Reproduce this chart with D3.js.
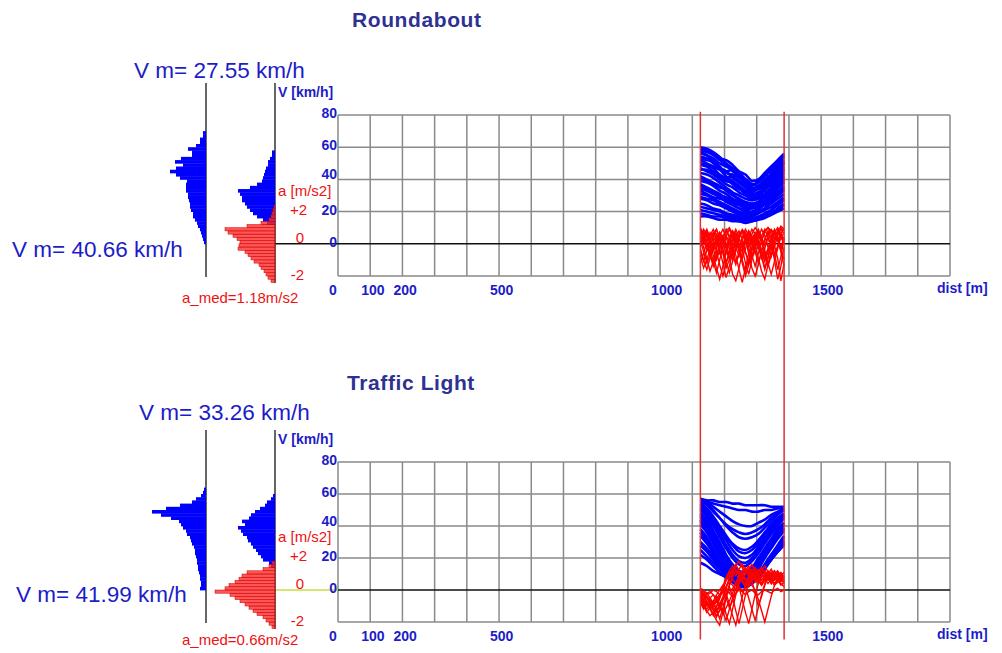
<!DOCTYPE html>
<meta charset="utf-8">
<style>
body { margin: 0; background: #fff; }
text { font-family: "Liberation Sans", Arial, sans-serif; }
.tick-v { font-size: 14px; font-weight: bold; fill: #1c1cc8; }
.tick-a { font-size: 15px; fill: #ee1111; }
.vm { font-size: 22.5px; fill: #1c1cc8; }
.amed { font-size: 15px; fill: #ee1111; }
.title { font-size: 21px; font-weight: bold; fill: #2e3192; letter-spacing: 0.6px; }
</style>
<body>
<script src="https://d3js.org/d3.v7.min.js"></script>
<script>
var width = 1002, height = 653

// distance axis
var distTicks = [0, 100, 200, 500, 1000, 1500]
var speedTicks = [80, 60, 40, 20, 0]
var accTicks = [{v: 2, t: "+2"}, {v: 0, t: "0"}, {v: -2, t: "-2"}]
var zoneStart = 1125, zoneEnd = 1385

// sample positions of the traces (m)
var distV = [1125, 1145, 1165, 1185, 1205, 1225, 1245, 1265, 1285, 1305, 1325, 1345, 1365, 1385]
var distA = [1125, 1135, 1145, 1155, 1165, 1175, 1185, 1195, 1205, 1215, 1225, 1235, 1245, 1255,
  1265, 1275, 1285, 1295, 1305, 1315, 1325, 1335, 1345, 1355, 1365, 1375, 1385]

// Roundabout speed traces (km/h)
var rbSpeed = [
  [60, 59, 57, 54, 50, 47, 44, 40, 37, 38, 42, 46, 51, 55],
  [59, 58, 56, 53, 52, 49, 45, 43, 39, 40, 44, 48, 52, 56],
  [58, 57, 55, 52, 49, 45, 42, 38, 35, 34, 37, 42, 47, 52],
  [57, 55, 51, 47, 45, 46, 44, 40, 36, 39, 43, 41, 45, 50],
  [56, 55, 53, 50, 48, 46, 42, 40, 37, 36, 39, 44, 49, 54],
  [54, 53, 50, 47, 45, 41, 38, 35, 33, 34, 36, 40, 45, 50],
  [53, 52, 51, 48, 44, 43, 41, 37, 34, 36, 40, 43, 46, 51],
  [52, 50, 48, 46, 42, 39, 36, 33, 31, 32, 35, 39, 44, 48],
  [50, 49, 47, 43, 41, 42, 39, 35, 32, 35, 38, 36, 40, 46],
  [49, 48, 45, 42, 40, 37, 34, 32, 30, 30, 33, 37, 41, 46],
  [47, 45, 43, 40, 37, 35, 32, 30, 28, 29, 31, 35, 39, 44],
  [46, 46, 44, 41, 39, 38, 35, 31, 29, 31, 34, 38, 43, 47],
  [44, 43, 41, 38, 35, 32, 30, 28, 27, 28, 30, 33, 38, 42],
  [42, 40, 38, 36, 33, 30, 28, 26, 25, 26, 29, 32, 36, 40],
  [41, 39, 37, 35, 34, 31, 27, 25, 24, 26, 30, 34, 37, 41],
  [39, 38, 36, 33, 31, 28, 26, 24, 23, 25, 27, 30, 34, 38],
  [37, 35, 33, 31, 28, 26, 24, 22, 22, 23, 26, 29, 32, 36],
  [36, 34, 32, 30, 29, 27, 25, 23, 22, 24, 27, 31, 35, 39],
  [34, 33, 31, 29, 26, 24, 22, 21, 20, 22, 24, 27, 30, 34],
  [33, 31, 29, 28, 27, 25, 22, 20, 19, 21, 25, 28, 31, 35],
  [31, 30, 28, 26, 24, 22, 20, 19, 19, 20, 22, 25, 28, 31],
  [29, 28, 27, 25, 23, 21, 19, 18, 17, 19, 22, 26, 30, 33],
  [28, 27, 25, 24, 22, 20, 18, 17, 18, 19, 21, 23, 26, 29],
  [25, 24, 22, 21, 19, 18, 17, 16, 16, 17, 19, 21, 24, 27],
  [23, 22, 21, 20, 18, 17, 16, 15, 15, 16, 18, 21, 25, 28],
  [21, 20, 19, 18, 17, 16, 15, 15, 15, 16, 17, 19, 22, 25],
  [19, 18, 17, 17, 16, 15, 14, 14, 14, 15, 17, 19, 21, 24],
  [17, 17, 16, 15, 15, 14, 14, 13, 14, 15, 16, 18, 20, 22]
]

// Roundabout acceleration traces (m/s2)
var rbAcc = [
  [0.6, 0.3, -0.2, -0.8, -0.4, 0.2, 0.7, 0.4, -0.3, -1.0, -0.6, 0.1, 0.6, 0.8, 0.3, -0.4, -0.9, -0.3, 0.4, 0.9, 0.5, -0.2, -0.8, -0.2, 0.5, 0.9, 0.6],
  [0.2, -0.5, -1.2, -0.7, 0.1, 0.6, 0.2, -0.6, -1.5, -1.0, -0.2, 0.4, 0.8, 0.3, -0.5, -1.3, -0.8, 0.0, 0.6, 0.2, -0.6, -1.4, -0.7, 0.1, 0.7, 1.0, 0.8],
  [-0.3, -1.0, -1.6, -0.9, -0.2, 0.3, -0.4, -1.2, -2.1, -1.4, -0.5, 0.2, -0.3, -1.0, -1.7, -1.0, -0.2, 0.5, 0.1, -0.7, -1.5, -0.8, 0.0, 0.6, 0.2, -0.4, 0.3],
  [0.8, 0.5, 0.0, -0.6, -1.3, -0.7, 0.0, 0.5, 0.0, -0.8, -1.9, -2.3, -1.5, -0.6, 0.1, 0.7, 0.3, -0.5, -1.2, -0.5, 0.3, 0.8, 0.4, -0.6, -1.6, -0.8, 0.4],
  [-0.8, -1.5, -1.0, -0.3, 0.4, 0.9, 0.4, -0.3, -1.1, -1.8, -1.1, -0.3, 0.4, 0.8, 0.2, -0.6, -1.5, -2.0, -1.3, -0.4, 0.3, 0.7, 0.1, -1.0, -2.2, -1.4, -0.2],
  [0.4, 0.9, 0.6, 0.0, -0.7, -1.5, -2.2, -1.4, -0.5, 0.3, 0.8, 0.5, -0.2, -0.9, -0.3, 0.4, 0.9, 0.6, 0.0, -0.8, -1.6, -0.9, 0.0, 0.7, 1.0, 0.6, 0.2],
  [0.0, 0.5, 0.9, 0.4, -0.3, -1.0, -0.4, 0.3, 0.8, 0.4, -0.4, -1.1, -0.6, 0.2, 0.7, 0.2, -0.7, -1.4, -0.6, 0.2, 0.8, 1.0, 0.6, -0.1, -0.9, -2.3, -1.2],
  [-1.2, -0.6, 0.1, 0.7, 0.3, -0.5, -1.3, -2.0, -1.2, -0.4, 0.4, 0.9, 0.4, -0.3, -1.2, -1.9, -1.0, -0.2, 0.5, 0.1, -0.8, -0.3, 0.4, 0.9, 0.5, -0.3, -1.0],
  [0.9, 0.6, 0.2, 0.5, 0.9, 0.5, -0.1, 0.4, 0.8, 1.0, 0.6, 0.1, 0.5, 0.9, 0.6, 0.1, 0.6, 1.0, 0.7, 0.2, 0.7, 1.0, 0.8, 0.3, 0.7, 1.1, 0.9],
  [0.5, 0.1, 0.6, 0.2, -0.3, 0.3, 0.7, 0.2, -0.2, 0.4, 0.8, 0.3, -0.2, 0.4, 0.9, 0.5, 0.0, 0.5, 0.9, 0.4, -0.1, 0.5, 0.9, 0.6, 0.2, 0.6, 1.0],
  [-0.5, -1.1, -0.4, 0.3, 0.7, 0.2, -0.6, -0.2, 0.5, 0.1, -0.7, -1.3, -0.6, 0.1, -0.5, -1.1, -0.4, 0.3, -0.2, -0.9, -0.3, 0.4, -0.2, -0.8, -0.1, 0.6, 0.3],
  [0.3, -0.2, -0.9, -1.7, -1.1, -0.3, 0.5, 0.1, -0.6, 0.0, 0.6, 0.2, -0.5, -1.2, -2.0, -1.3, -0.4, 0.3, 0.8, 0.3, -0.4, -1.2, -1.9, -1.1, -0.3, 0.4, 0.7],
  [0.7, 0.2, -0.4, 0.1, 0.6, 0.9, 0.3, -0.5, -1.2, -0.6, 0.2, 0.7, 0.3, -0.2, 0.4, 0.8, 0.2, -0.6, -0.1, 0.5, 0.9, 0.4, -0.3, 0.2, 0.8, 0.5, 0.0],
  [-0.2, 0.4, 0.8, 0.3, -0.4, -0.1, 0.5, 0.9, 0.4, -0.3, -1.0, -0.4, 0.3, 0.8, 0.4, -0.2, 0.3, 0.7, 0.2, -0.5, -1.1, -0.5, 0.2, 0.7, 0.3, -0.2, 0.4],
  [1.0, 0.6, 0.0, -0.7, -1.4, -0.8, -0.1, 0.4, 0.9, 0.5, -0.1, -0.7, -1.6, -2.4, -1.5, -0.6, 0.1, 0.6, 0.2, -0.4, -1.0, -0.4, 0.3, 0.8, 0.3, -0.5, -1.4],
  [0.3, 0.8, 0.4, -0.3, -1.1, -1.8, -1.0, -0.2, 0.5, 0.9, 0.4, -0.2, -0.8, -0.3, 0.3, 0.8, 0.5, -0.1, -0.9, -1.7, -2.2, -1.3, -0.4, 0.3, 0.8, 0.4, 0.0]
]

// Traffic light speed traces (km/h)
var tlSpeed = [
  [57, 56, 56, 55, 55, 54, 54, 53, 53, 53, 53, 52, 52, 52],
  [55, 55, 54, 53, 52, 51, 50, 50, 49, 49, 50, 50, 51, 51],
  [56, 55, 52, 49, 46, 43, 41, 40, 40, 42, 44, 47, 49, 51],
  [56, 54, 50, 45, 41, 38, 36, 35, 36, 38, 41, 45, 48, 50],
  [55, 53, 49, 45, 40, 36, 33, 32, 33, 35, 39, 43, 47, 50],
  [54, 51, 46, 40, 34, 29, 26, 25, 27, 31, 36, 41, 45, 48],
  [53, 50, 45, 39, 33, 28, 24, 23, 25, 29, 34, 39, 44, 47],
  [52, 49, 43, 37, 31, 25, 21, 20, 22, 27, 32, 38, 43, 47],
  [51, 47, 42, 35, 28, 22, 18, 17, 20, 25, 31, 37, 42, 46],
  [50, 46, 40, 33, 26, 20, 16, 15, 18, 23, 29, 35, 40, 45],
  [48, 44, 37, 30, 22, 16, 12, 11, 14, 20, 26, 32, 38, 42],
  [47, 43, 36, 28, 20, 14, 10, 9, 12, 18, 25, 31, 37, 42],
  [46, 41, 34, 26, 18, 12, 9, 8, 11, 17, 24, 30, 36, 41],
  [44, 39, 32, 24, 16, 10, 7, 6, 9, 15, 22, 28, 34, 39],
  [43, 38, 31, 23, 15, 9, 6, 5, 8, 14, 21, 27, 33, 38],
  [41, 36, 29, 21, 13, 8, 5, 5, 8, 13, 20, 26, 32, 37],
  [38, 33, 26, 18, 11, 6, 3, 3, 5, 10, 16, 22, 28, 34],
  [36, 31, 25, 17, 10, 6, 3, 2, 5, 9, 16, 22, 27, 33],
  [34, 29, 23, 16, 9, 5, 2, 2, 4, 9, 15, 21, 26, 31],
  [30, 26, 21, 15, 10, 6, 4, 3, 5, 9, 14, 20, 25, 30],
  [28, 24, 19, 14, 9, 5, 3, 2, 4, 8, 13, 19, 24, 29],
  [25, 21, 17, 13, 9, 6, 4, 3, 5, 9, 14, 19, 24, 29],
  [22, 19, 15, 11, 8, 6, 4, 4, 6, 10, 14, 19, 24, 28],
  [17, 15, 12, 10, 8, 7, 6, 6, 8, 11, 15, 20, 25, 30]
]

// Traffic light acceleration traces (m/s2)
var tlAcc = [
  [-0.3, -0.6, -0.9, -1.2, -1.0, -0.7, -0.4, 0.2, 0.8, 1.2, 1.5, 1.3, 1.0, 1.2, 1.4, 1.1, 0.8, 1.0, 1.3, 1.0, 0.7, 0.9, 1.1, 0.8, 0.5, 0.7, 0.9],
  [-0.5, -0.9, -1.3, -1.6, -1.4, -1.0, -0.5, 0.0, 0.6, 1.0, 1.3, 1.6, 1.2, 0.9, 1.2, 1.5, 1.1, 0.8, 1.1, 1.4, 1.0, 0.6, 0.9, 1.2, 0.8, 0.5, 0.7],
  [-0.2, -0.4, -0.8, -1.1, -1.5, -1.9, -2.2, -1.4, -0.5, 0.3, 0.9, 1.2, 0.9, 0.6, 1.0, 1.3, 0.9, 0.5, 0.8, 1.1, 0.7, 0.4, 0.7, 1.0, 0.6, 0.3, 0.5],
  [-0.1, -0.3, -0.5, -0.8, -1.2, -1.6, -1.3, -0.8, -1.5, -2.1, -1.2, -0.3, 0.4, 1.0, 0.7, 0.3, 0.8, 1.2, 0.8, 0.4, 0.8, 1.1, 0.7, 0.3, 0.6, 0.9, 0.5],
  [-0.4, -0.7, -1.0, -0.8, -1.1, -1.4, -1.0, -0.6, -0.2, -0.9, -1.6, -2.2, -1.3, -0.4, 0.3, 0.9, 1.3, 0.9, 0.5, 0.9, 1.2, 0.8, 0.4, 0.7, 1.0, 0.7, 0.4],
  [0.0, -0.2, -0.4, -0.6, -0.9, -0.6, -0.3, 0.1, -0.5, -1.1, -0.7, -0.2, 0.2, -0.6, -1.4, -2.1, -1.2, -0.3, 0.4, 0.9, 1.2, 0.8, 0.4, 0.8, 1.1, 0.8, 0.5],
  [-0.6, -1.0, -1.4, -1.1, -0.7, -0.3, 0.0, 0.3, 0.1, -0.2, 0.1, 0.4, 0.2, -0.1, 0.2, 0.5, 0.3, 0.0, -0.6, -1.3, -2.0, -1.2, -0.4, 0.3, 0.7, 0.4, 0.2],
  [-0.2, -0.1, -0.3, -0.2, 0.0, -0.1, -0.3, -0.2, 0.0, -0.2, -0.4, -0.2, 0.0, -0.1, -0.3, -0.1, 0.0, -0.2, -0.3, -0.1, 0.0, -0.1, -0.2, 0.0, 0.1, -0.1, 0.0],
  [-0.8, -1.2, -0.9, -0.5, -0.8, -1.3, -0.9, -0.4, 0.2, 0.7, 1.1, 1.5, 1.8, 1.4, 1.0, 1.3, 1.6, 1.2, 0.9, 1.2, 1.5, 1.1, 0.8, 1.0, 1.2, 0.9, 0.7],
  [-0.3, -0.6, -0.4, -0.7, -1.0, -0.7, -1.1, -1.5, -1.1, -0.7, -0.2, 0.4, 0.9, 0.6, 0.3, 0.7, 1.0, 0.7, 0.4, 0.8, 1.0, 0.7, 0.5, 0.8, 1.0, 0.7, 0.5],
  [0.1, 0.0, -0.2, -0.1, -0.3, -0.5, -0.3, -0.1, 0.2, 0.5, 0.3, 0.0, 0.4, 0.8, 0.5, 0.2, 0.6, 0.9, 0.6, 0.3, 0.6, 0.9, 0.6, 0.3, 0.5, 0.8, 0.6],
  [-0.5, -0.3, -0.7, -1.1, -0.8, -0.4, -0.9, -1.4, -1.9, -1.2, -0.5, 0.1, 0.6, 1.0, 1.3, 1.0, 0.6, -0.2, -1.0, -0.4, 0.3, 0.8, 1.1, 0.8, 0.5, 0.9, 1.1],
  [-0.4, -0.8, -1.2, -0.9, -1.3, -1.7, -1.2, -0.6, 0.1, 0.8, 1.2, 0.9, 1.3, 1.6, 1.2, 0.8, 1.1, 1.4, 1.0, 0.6, 0.9, 1.2, 0.8, 0.6, 0.9, 1.1, 0.8],
  [-0.1, -0.4, -0.7, -1.0, -0.7, -1.2, -1.8, -1.1, -0.4, 0.2, -0.4, -1.3, -2.1, -1.2, -0.3, 0.5, 1.0, 0.7, 1.1, 1.4, 1.0, 0.7, 1.0, 1.2, 0.9, 0.6, 0.8],
  [-0.7, -1.1, -0.8, -1.2, -1.6, -1.1, -0.5, 0.1, 0.7, 1.1, 0.8, 1.2, 0.9, 0.5, 0.2, -0.5, -1.2, -1.9, -1.1, -0.3, 0.4, 1.0, 1.3, 0.9, 0.6, 0.9, 1.1],
  [0.0, -0.3, -0.2, -0.5, -0.3, -0.6, -0.9, -0.5, -0.2, 0.3, 0.7, 0.4, 0.8, 1.1, 0.7, 0.4, 0.7, 1.0, 0.6, 0.3, 0.7, 1.0, 0.7, 0.4, 0.7, 1.0, 0.8]
]

// histograms: counts from the lowest bin upward
// speed over the whole run, 2 km/h bins starting at 0
var rbHistAll = [2, 3, 4, 5, 6, 8, 9, 11, 13, 13, 15, 16, 16, 17, 18, 18, 20, 20, 20, 19,
  26, 30, 36, 30, 23, 31, 25, 14, 14, 18, 10, 6, 6, 3, 3]
var tlHistAll = [6, 5, 5, 6, 6, 7, 8, 8, 9, 9, 10, 11, 11, 12, 14, 15, 16, 19, 20, 23,
  25, 27, 35, 45, 54, 40, 26, 14, 10, 5, 3, 2]
// speed inside the zone, 2 km/h bins
var rbHistZone = [8, 12, 18, 22, 25, 28, 30, 33, 33, 35, 37, 25, 18, 13, 12, 11, 10, 9, 7, 7, 5, 3, 3]
var rbHistZoneStart = 12
var tlHistZone = [4, 6, 12, 14, 17, 19, 22, 24, 27, 28, 32, 34, 37, 30, 33, 26, 24, 20, 15, 10, 8, 4, 2]
var tlHistZoneStart = 14
// acceleration inside the zone, 0.2 m/s2 bins starting at -2.4
var rbHistAcc = [4, 7, 9, 11, 14, 16, 21, 24, 27, 30, 37, 36, 35, 38, 42, 47, 50, 28, 14, 6, 4, 3, 2, 1]
var tlHistAcc = [3, 6, 9, 12, 18, 22, 26, 30, 35, 40, 45, 60, 50, 46, 40, 36, 33, 28, 12, 6, 3]

var panels = [
  {title: "Roundabout", vmTop: "V m= 27.55 km/h", vmBot: "V m= 40.66 km/h", aMed: "a_med=1.18m/s2",
   speed: rbSpeed, acc: rbAcc, hAll: rbHistAll, hZone: rbHistZone, hZoneStart: rbHistZoneStart, hAcc: rbHistAcc,
   top: 115, bottom: 276, titleX: 352, titleY: 27, vmTopX: 134, vmTopY: 78, vmBotX: 12, vmBotY: 257, aMedY: 303,
   stub: "#111"},
  {title: "Traffic Light", vmTop: "V m= 33.26 km/h", vmBot: "V m= 41.99 km/h", aMed: "a_med=0.66m/s2",
   speed: tlSpeed, acc: tlAcc, hAll: tlHistAll, hZone: tlHistZone, hZoneStart: tlHistZoneStart, hAcc: tlHistAcc,
   top: 462, bottom: 622, titleX: 347, titleY: 390, vmTopX: 139, vmTopY: 420, vmBotX: 16, vmBotY: 602, aMedY: 645,
   stub: "#c8dc3c"}
]

var svg = d3.select("body").append("svg")
    .attr("width", width)
    .attr("height", height)

svg.append("rect").attr("width", width).attr("height", height).attr("fill", "#fff")

var x = d3.scaleLinear().domain([0, 1900]).range([338, 950])
var barLen = d3.scaleLinear().domain([0, 60]).range([0, 60])
var hist1X = 206, hist2X = 275

panels.forEach(function(p) {
  var y = d3.scaleLinear().domain([-20, 80]).range([p.bottom, p.top])
  var ya = function(a) { return y(a * 10) }   // acceleration drawn on the speed scale
  var g = svg.append("g")

  // grid
  g.selectAll(".vgrid")
    .data(d3.range(0, 1901, 100))
  .enter().append("line")
    .attr("x1", function(d) { return x(d) })
    .attr("x2", function(d) { return x(d) })
    .attr("y1", y(80)).attr("y2", y(-20))
    .attr("stroke", "#8a8a8a").attr("stroke-width", 1.5)

  g.selectAll(".hgrid")
    .data([80, 60, 40, 20, -20])
  .enter().append("line")
    .attr("x1", x(0)).attr("x2", x(1900))
    .attr("y1", function(d) { return y(d) })
    .attr("y2", function(d) { return y(d) })
    .attr("stroke", "#8a8a8a").attr("stroke-width", 1.5)

  // zero line
  g.append("line")
    .attr("x1", hist2X).attr("x2", x(0))
    .attr("y1", y(0)).attr("y2", y(0))
    .attr("stroke", p.stub).attr("stroke-width", 1.5)
  g.append("line")
    .attr("x1", x(0)).attr("x2", x(1900))
    .attr("y1", y(0)).attr("y2", y(0))
    .attr("stroke", "#111").attr("stroke-width", 1.5)

  // histogram axes
  g.append("line").attr("x1", hist1X).attr("x2", hist1X)
    .attr("y1", y(80) - 32).attr("y2", y(-20) + 1)
    .attr("stroke", "#333").attr("stroke-width", 1.5)
  g.append("line").attr("x1", hist2X).attr("x2", hist2X)
    .attr("y1", y(80) - 32).attr("y2", y(-20) + 7)
    .attr("stroke", "#333").attr("stroke-width", 1.5)

  // speed histograms
  g.selectAll(".hall")
    .data(p.hAll)
  .enter().append("rect")
    .attr("x", function(d) { return hist1X - barLen(d) })
    .attr("width", function(d) { return barLen(d) })
    .attr("y", function(d, i) { return y(i * 2 + 2) })
    .attr("height", function(d, i) { return y(i * 2) - y(i * 2 + 2) + 0.4 })
    .attr("fill", "#0000ff")

  g.selectAll(".hzone")
    .data(p.hZone)
  .enter().append("rect")
    .attr("x", function(d) { return hist2X - barLen(d) })
    .attr("width", function(d) { return barLen(d) })
    .attr("y", function(d, i) { return y(p.hZoneStart + i * 2 + 2) })
    .attr("height", function(d, i) { return y(p.hZoneStart + i * 2) - y(p.hZoneStart + i * 2 + 2) + 0.4 })
    .attr("fill", "#0000ff")

  // acceleration histogram
  g.selectAll(".hacc")
    .data(p.hAcc)
  .enter().append("rect")
    .attr("x", function(d) { return hist2X - barLen(d) })
    .attr("width", function(d) { return barLen(d) })
    .attr("y", function(d, i) { return ya(-2.4 + i * 0.2 + 0.2) })
    .attr("height", function(d, i) { return ya(-2.4 + i * 0.2) - ya(-2.4 + i * 0.2 + 0.2) })
    .attr("fill", "#ff2a2a").attr("fill-opacity", 0.8)
    .attr("stroke", "#c80000").attr("stroke-width", 0.5)

  // traces
  var speedLine = d3.line()
    .x(function(d, i) { return x(distV[i]) })
    .y(function(d) { return y(d) })
    .curve(d3.curveCatmullRom)
  g.selectAll(".vtrace")
    .data(p.speed)
  .enter().append("path")
    .attr("d", speedLine)
    .attr("fill", "none").attr("stroke", "#0000ff").attr("stroke-width", 2.6)

  var accLine = d3.line()
    .x(function(d, i) { return x(distA[i]) })
    .y(function(d) { return ya(d) })
  g.selectAll(".atrace")
    .data(p.acc)
  .enter().append("path")
    .attr("d", accLine)
    .attr("fill", "none").attr("stroke", "#ff0000").attr("stroke-width", 1.4)

  // labels
  g.append("text").attr("class", "title").attr("x", p.titleX).attr("y", p.titleY).text(p.title)
  g.append("text").attr("class", "vm").attr("x", p.vmTopX).attr("y", p.vmTopY).text(p.vmTop)
  g.append("text").attr("class", "vm").attr("x", p.vmBotX).attr("y", p.vmBotY).text(p.vmBot)
  g.append("text").attr("class", "amed").attr("x", 182).attr("y", p.aMedY).text(p.aMed)

  g.append("text").attr("class", "tick-v").attr("x", 278).attr("y", y(80) - 18).text("V [km/h]")
  g.selectAll(".vlab")
    .data(speedTicks)
  .enter().append("text")
    .attr("class", "tick-v")
    .attr("text-anchor", "end")
    .attr("x", 337)
    .attr("y", function(d) { return y(d) + (d == 40 ? 0 : 3) })
    .text(function(d) { return d })

  g.append("text").attr("class", "tick-a").attr("x", 278).attr("y", y(20) - 16).text("a [m/s2]")
  g.selectAll(".alab")
    .data(accTicks)
  .enter().append("text")
    .attr("class", "tick-a")
    .attr("text-anchor", "end")
    .attr("x", function(d) { return d.v > 0 ? 307 : 304 })
    .attr("y", function(d) { return ya(d.v) + (d.v < 0 ? 4 : d.v > 0 ? 3 : -1) })
    .text(function(d) { return d.t })

  g.selectAll(".xlab")
    .data(distTicks)
  .enter().append("text")
    .attr("class", "tick-v")
    .attr("x", function(d) { return x(d) - 9 })
    .attr("y", y(-20) + 19)
    .text(function(d) { return d })
  g.append("text").attr("class", "tick-v").attr("x", 937).attr("y", y(-20) + 17).text("dist [m]")
})

// zone limits across both panels
var yTop = d3.scaleLinear().domain([-20, 80]).range([panels[0].bottom, panels[0].top])
var yBot = d3.scaleLinear().domain([-20, 80]).range([panels[1].bottom, panels[1].top])
svg.selectAll(".zone")
  .data([zoneStart, zoneEnd])
.enter().append("line")
  .attr("x1", function(d) { return x(d) })
  .attr("x2", function(d) { return x(d) })
  .attr("y1", yTop(82)).attr("y2", yBot(-31))
  .attr("stroke", "#e23030").attr("stroke-width", 1.5)
</script>
</body>
